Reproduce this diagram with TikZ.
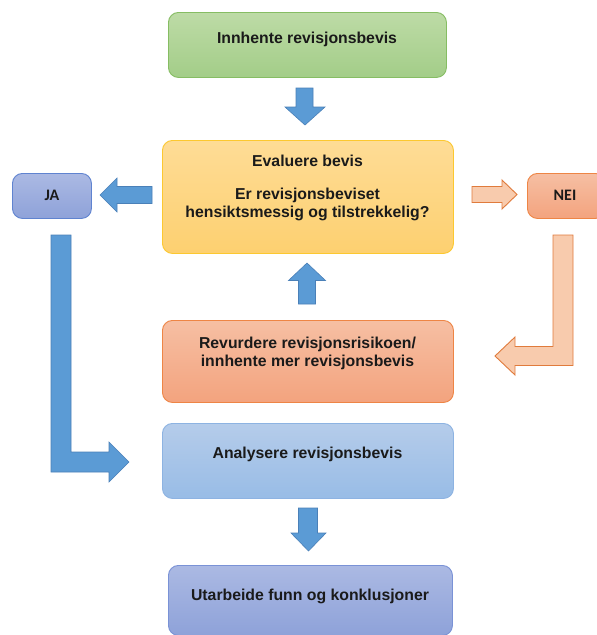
\documentclass[tikz,border=0pt]{standalone}
\usepackage{fontspec}
\setmainfont{Liberation Sans}
\newfontfamily\calib{Carlito}
\definecolor{greenTop}{HTML}{BDDBA6}
\definecolor{greenBot}{HTML}{A3CD88}
\definecolor{greenEdge}{HTML}{86BD63}
\definecolor{yelTop}{HTML}{FEDC96}
\definecolor{yelBot}{HTML}{FDD070}
\definecolor{yelEdge}{HTML}{FCC830}
\definecolor{oraTop}{HTML}{F6BFA3}
\definecolor{oraBot}{HTML}{F3A37E}
\definecolor{oraEdge}{HTML}{EE8545}
\definecolor{lbTop}{HTML}{B5CCEA}
\definecolor{lbBot}{HTML}{98BCE6}
\definecolor{lbEdge}{HTML}{8DB3E2}
\definecolor{puTop}{HTML}{ABB9E3}
\definecolor{puBot}{HTML}{8EA2D9}
\definecolor{puEdge}{HTML}{7A92D6}
\definecolor{jaEdge}{HTML}{5F83D0}
\definecolor{arrBlue}{HTML}{5B9BD5}
\definecolor{arrBlueEdge}{HTML}{4A80B8}
\definecolor{arrOra}{HTML}{F8CBAD}
\definecolor{arrOraEdge}{HTML}{E07B3C}
\definecolor{txtc}{HTML}{1A1A1A}
\begin{document}
\begin{tikzpicture}[x=1pt,y=-1pt,
  box/.style={draw, line width=0.9pt, rounded corners=10pt, anchor=north west, inner sep=0pt},
  txt/.style={font=\bfseries\fontsize{15.8}{18.4}\selectfont, text=txtc, anchor=base, inner sep=0pt},
  smalltxt/.style={font=\calib\bfseries\fontsize{16}{18}\selectfont, text=txtc, anchor=base, inner sep=0pt},
  blockblue/.style={fill=arrBlue, draw=arrBlueEdge, line width=0.6pt, line join=miter},
  blockora/.style={fill=arrOra, draw=arrOraEdge, line width=0.9pt, line join=miter}]
\useasboundingbox[fill=white] (0,0) rectangle (597,635);

% boxes
\node[box, draw=greenEdge, top color=greenTop, bottom color=greenBot,
  minimum width=278pt, minimum height=65pt] (green) at (168,12) {};
\node[box, draw=yelEdge, top color=yelTop, bottom color=yelBot,
  minimum width=291pt, minimum height=113pt] (yellow) at (162,140) {};
\node[box, draw=jaEdge, top color=puTop, bottom color=puBot,
  minimum width=79pt, minimum height=45pt] (ja) at (12,173) {};
\node[box, draw=oraEdge, top color=oraTop, bottom color=oraBot,
  minimum width=78pt, minimum height=45pt] (nei) at (527,173) {};
\node[box, draw=oraEdge, top color=oraTop, bottom color=oraBot,
  minimum width=291pt, minimum height=82pt] (orange) at (162,320) {};
\node[box, draw=lbEdge, top color=lbTop, bottom color=lbBot,
  minimum width=291pt, minimum height=75pt] (lblue) at (162,423) {};
\node[box, draw=puEdge, top color=puTop, bottom color=puBot,
  minimum width=284pt, minimum height=70pt] (purple) at (168,565) {};

% texts
\node[txt] (t1) at (307,43) {Innhente revisjonsbevis};
\node[txt] (t2) at (307.5,166) {Evaluere bevis};
\node[txt] (t3) at (307.5,199) {Er revisjonsbeviset};
\node[txt] (t4) at (307.5,217.4) {hensiktsmessig og tilstrekkelig?};
\node[smalltxt] (tja) at (52,200) {JA};
\node[smalltxt] (tnei) at (565,200) {NEI};
\node[txt] (t5) at (307.5,348.3) {Revurdere revisjonsrisikoen/};
\node[txt] (t6) at (307.5,366.7) {innhente mer revisjonsbevis};
\node[txt] (t7) at (307.5,458.3) {Analysere revisjonsbevis};
\node[txt] (t8) at (310,600.7) {Utarbeide funn og konklusjoner};

% block arrows
% down: green -> yellow
\filldraw[blockblue] (296,88) -- (313,88) -- (313,107) -- (325,107) -- (305,125)
  -- (285,107) -- (296,107) -- cycle;
% left: yellow -> JA
\filldraw[blockblue] (152,186.5) -- (117,186.5) -- (117,178) -- (100,195) -- (117,212)
  -- (117,203.5) -- (152,203.5) -- cycle;
% right: yellow -> NEI
\filldraw[blockora] (472,186.5) -- (502,186.5) -- (502,180) -- (517,194.5) -- (502,209)
  -- (502,202.5) -- (472,202.5) -- cycle;
% up: orange -> yellow
\filldraw[blockblue] (298.5,304) -- (315.5,304) -- (315.5,280.5) -- (325.5,280.5) -- (307,263)
  -- (288.5,280.5) -- (298.5,280.5) -- cycle;
% bent: NEI -> orange
\filldraw[blockora] (553,235) -- (573,235) -- (573,365.5) -- (515,365.5) -- (515,375)
  -- (495,356) -- (515,337) -- (515,346.5) -- (553,346.5) -- cycle;
% bent: JA -> light blue
\filldraw[blockblue] (51,235) -- (71,235) -- (71,452) -- (109,452) -- (109,442)
  -- (129,462) -- (109,482) -- (109,472) -- (51,472) -- cycle;
% down: light blue -> purple
\filldraw[blockblue] (298.5,508) -- (317.5,508) -- (317.5,533) -- (326,533) -- (308.5,551)
  -- (291,533) -- (298.5,533) -- cycle;
\end{tikzpicture}
\end{document}
